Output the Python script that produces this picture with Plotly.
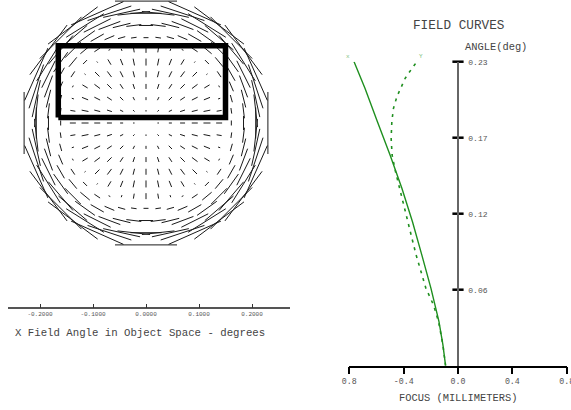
import numpy as np
import plotly.graph_objects as go

# ---------------- data ----------------
# Field curves (angle in deg, focus in mm)
ANGLE_X = [0.0, 0.0157, 0.0333, 0.0585, 0.0837, 0.1089, 0.1342, 0.1468, 0.1594, 0.1846, 0.2098, 0.23]
FOCUS_X = [-0.0915, -0.111, -0.14, -0.199, -0.266, -0.335, -0.413, -0.455, -0.5, -0.593, -0.684, -0.765]
ANGLE_Y = [0.0, 0.0157, 0.0333, 0.0459, 0.0585, 0.0711, 0.0837, 0.0964, 0.1089, 0.1216, 0.1342,
           0.1468, 0.1594, 0.172, 0.1846, 0.1947, 0.2035, 0.2098, 0.2174, 0.2237, 0.23]
FOCUS_Y = [-0.0915, -0.111, -0.143, -0.18, -0.236, -0.273, -0.308, -0.339, -0.369, -0.401, -0.431,
           -0.46, -0.485, -0.492, -0.487, -0.475, -0.45, -0.424, -0.389, -0.347, -0.303]

ANGLE_TICKS = [0.0575, 0.115, 0.1725, 0.23]
ANGLE_TICKTEXT = ["0.06", "0.12", "0.17", "0.23"]
FOCUS_TICKS = [-0.8, -0.4, 0.0, 0.4, 0.8]
FOCUS_TICKTEXT = ["0.8", "-0.4", "0.0", "0.4", "0.8"]

# Field map: grid of field points and astigmatism line length vs field radius
FIELD_STEP = 0.023
FIELD_MAX = 0.23
ASTIG_R = [0.0, 0.023, 0.046, 0.069, 0.092, 0.115, 0.138, 0.15, 0.161, 0.184, 0.207, 0.23]
ASTIG_LEN = [0.0, 0.0028, 0.0057, 0.0094, 0.0113, 0.0132, 0.0113, 0.0, -0.0094, -0.0264, -0.0585, -0.117]
MAP_TICKS = [-0.2, -0.1, 0.0, 0.1, 0.2]
MAP_TICKTEXT = ["-0.2000", "-0.1000", "0.0000", "0.1000", "0.2000"]
DETECTOR_X = [-0.1655, 0.15]
DETECTOR_Y = [0.0104, 0.1457]

FONT = "Liberation Mono"
GREEN = "#1f8f1f"

# ---------------- field map segments ----------------
n = int(round(FIELD_MAX / FIELD_STEP))
sx, sy = [], []
for j in range(-n, n + 1):
    for i in range(-n, n + 1):
        x = i * FIELD_STEP
        y = j * FIELD_STEP
        r = np.hypot(x, y)
        if r > FIELD_MAX + 1e-9 or r == 0:
            continue
        L = float(np.interp(r, ASTIG_R, ASTIG_LEN))
        ux, uy = x / r, y / r
        if L >= 0:
            dx, dy = ux, uy
        else:
            dx, dy = -uy, ux
        h = abs(L) / 2
        if h < 0.0006:
            h = 0.0006
        sx += [x - dx * h, x + dx * h, None]
        sy += [y - dy * h, y + dy * h, None]

fig = go.Figure()

fig.add_trace(go.Scatter(x=sx, y=sy, mode="lines", line=dict(color="#1a1a1a", width=1),
                         xaxis="x", yaxis="y", cliponaxis=False, hoverinfo="skip", showlegend=False))

rx = [DETECTOR_X[0], DETECTOR_X[1], DETECTOR_X[1], DETECTOR_X[0], DETECTOR_X[0]]
ry = [DETECTOR_Y[0], DETECTOR_Y[0], DETECTOR_Y[1], DETECTOR_Y[1], DETECTOR_Y[0]]
fig.add_trace(go.Scatter(x=rx, y=ry, mode="lines", line=dict(color="black", width=5.5),
                         xaxis="x", yaxis="y", cliponaxis=False, hoverinfo="skip", showlegend=False))

# ---------------- field curves ----------------
fig.add_trace(go.Scatter(x=FOCUS_X, y=ANGLE_X, mode="lines", line=dict(color=GREEN, width=1.4),
                         xaxis="x2", yaxis="y2", cliponaxis=False, showlegend=False))
fig.add_trace(go.Scatter(x=FOCUS_Y, y=ANGLE_Y, mode="lines",
                         line=dict(color=GREEN, width=1.6, dash="3px,5px"),
                         xaxis="x2", yaxis="y2", cliponaxis=False, showlegend=False))
# crossing tick marks on angle axis
fig.add_trace(go.Scatter(x=[0] * len(ANGLE_TICKS), y=ANGLE_TICKS, mode="markers",
                         marker=dict(symbol="line-ew", size=8, line=dict(color="black", width=2.5)),
                         xaxis="x2", yaxis="y2", cliponaxis=False, hoverinfo="skip", showlegend=False))

W, H = 571, 410

def px(v):
    return v / W

def py(v):
    return 1 - v / H

fig.update_layout(
    template="none",
    width=W, height=H, margin=dict(l=0, r=0, t=0, b=0, pad=0),
    paper_bgcolor="white", plot_bgcolor="white",
    font=dict(family=FONT, color="#444"),
    xaxis=dict(domain=[px(8), px(290)], range=[(8 - 146) / 530, (290 - 146) / 530],
               anchor="y", automargin=False, showgrid=False, zeroline=False, showline=True,
               linecolor="#555", linewidth=1.5, ticks="inside", ticklen=4, tickwidth=1,
               tickcolor="#333", tickvals=MAP_TICKS, ticktext=MAP_TICKTEXT,
               tickfont=dict(family=FONT, size=6, color="#555"), fixedrange=True),
    yaxis=dict(domain=[py(307.3), 1], range=[(123 - 307.3) / 530, 123 / 530],
               anchor="x", automargin=False, visible=False, fixedrange=True),
    xaxis2=dict(domain=[px(349.3), px(566.7)], range=[-0.8, 0.8], anchor="y2",
                automargin=False, showgrid=False, zeroline=False, showline=True,
                linecolor="black", linewidth=1.5,
                ticks="outside", ticklen=7, tickwidth=1.5, tickcolor="black",
                tickvals=FOCUS_TICKS, ticktext=FOCUS_TICKTEXT, ticklabeloverflow="allow",
                tickfont=dict(family=FONT, size=8.3, color="#555"), fixedrange=True),
    yaxis2=dict(domain=[py(365.7), py(61.7)], range=[0, 0.23], anchor="free",
                position=457.7 / W, side="right", automargin=False, showgrid=False,
                zeroline=False, showline=True, linecolor="#666", linewidth=2, ticks="",
                tickvals=ANGLE_TICKS, ticktext=ANGLE_TICKTEXT, ticklabelstandoff=8,
                tickfont=dict(family=FONT, size=8, color="#555"), fixedrange=True),
    annotations=[
        dict(text="X Field Angle in Object Space - degrees", xref="paper", yref="paper",
             x=px(12.5), y=py(333), xanchor="left", yanchor="middle", showarrow=False,
             font=dict(family=FONT, size=10.7, color="#444")),
        dict(text="FIELD CURVES", xref="paper", yref="paper", x=px(458.3), y=py(25),
             xanchor="center", yanchor="middle", showarrow=False,
             font=dict(family=FONT, size=12.7, color="#444")),
        dict(text="ANGLE(deg)", xref="paper", yref="paper", x=px(496.2), y=py(46.7),
             xanchor="center", yanchor="middle", showarrow=False,
             font=dict(family=FONT, size=10.4, color="#444")),
        dict(text="FOCUS (MILLIMETERS)", xref="paper", yref="paper", x=px(457.5), y=py(398),
             xanchor="center", yanchor="middle", showarrow=False,
             font=dict(family=FONT, size=10.4, color="#444")),
        dict(text="x", xref="x2", yref="y2", x=FOCUS_X[-1], y=ANGLE_X[-1], xshift=-6, yshift=5,
             showarrow=False, font=dict(family=FONT, size=6, color="#7cc07c")),
        dict(text="Y", xref="x2", yref="y2", x=FOCUS_Y[-1], y=ANGLE_Y[-1], xshift=4, yshift=5,
             showarrow=False, font=dict(family=FONT, size=6, color="#7cc07c")),
    ],
)

fig.write_html("out.html")
